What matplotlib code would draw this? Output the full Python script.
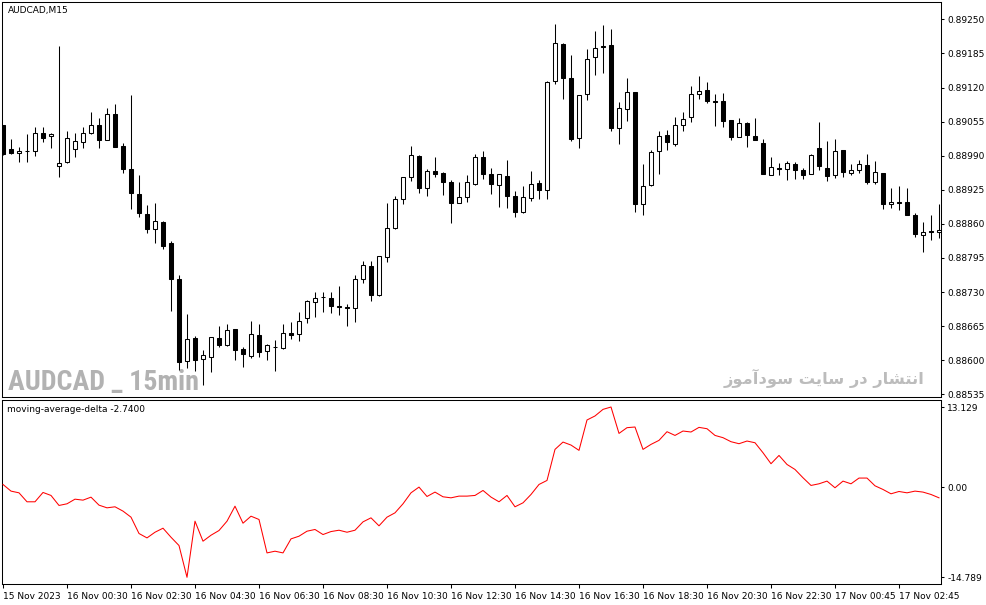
import matplotlib
matplotlib.use("Agg")
import matplotlib.pyplot as plt
from matplotlib import font_manager
import numpy as np

# ---------------- data ----------------
opens = [0.89048, 0.89003, 0.88995, 0.88999, 0.88999, 0.89033, 0.89028, 0.88970, 0.88978, 0.89003,
         0.89016, 0.89033, 0.89048, 0.89020, 0.89069, 0.89008, 0.88965, 0.88917, 0.88879, 0.88850,
         0.88864, 0.88824, 0.88755, 0.88599, 0.88643, 0.88602, 0.88606, 0.88643, 0.88629, 0.88660,
         0.88622, 0.88608, 0.88648, 0.88618, 0.88625, 0.88623, 0.88652, 0.88650, 0.88681, 0.88711,
         0.88721, 0.88719, 0.88704, 0.88702, 0.88700, 0.88755, 0.88780, 0.88724, 0.88797, 0.88852,
         0.88907, 0.88949, 0.88989, 0.88928, 0.88961, 0.88957, 0.88940, 0.88900, 0.88911, 0.88936,
         0.88988, 0.88955, 0.88934, 0.88951, 0.88913, 0.88883, 0.88909, 0.88938, 0.88925, 0.89132,
         0.89203, 0.89138, 0.89024, 0.89108, 0.89178, 0.89199, 0.89201, 0.89043, 0.89079, 0.89111,
         0.88898, 0.88934, 0.88999, 0.89029, 0.89012, 0.89048, 0.89064, 0.89108, 0.89115, 0.89094,
         0.89094, 0.89058, 0.89026, 0.89052, 0.89028, 0.89014, 0.88953, 0.88967, 0.88965, 0.88974,
         0.88963, 0.88955, 0.89005, 0.88967, 0.88953, 0.89001, 0.88957, 0.88963, 0.88972, 0.88940,
         0.88957, 0.88898, 0.88902, 0.88902, 0.88877, 0.88839, 0.88846, 0.88845]
highs = [0.89048, 0.89022, 0.89007, 0.89031, 0.89045, 0.89045, 0.89033, 0.89199, 0.89037, 0.89033,
         0.89045, 0.89073, 0.89062, 0.89081, 0.89089, 0.89014, 0.89106, 0.88953, 0.88896, 0.88900,
         0.88866, 0.88827, 0.88763, 0.88688, 0.88646, 0.88620, 0.88644, 0.88665, 0.88669, 0.88660,
         0.88625, 0.88675, 0.88669, 0.88631, 0.88639, 0.88669, 0.88673, 0.88692, 0.88715, 0.88730,
         0.88730, 0.88730, 0.88742, 0.88707, 0.88763, 0.88789, 0.88789, 0.88799, 0.88900, 0.88913,
         0.88949, 0.89008, 0.88991, 0.88965, 0.88988, 0.88959, 0.88944, 0.88940, 0.88953, 0.88993,
         0.88999, 0.88967, 0.88955, 0.88982, 0.88923, 0.88932, 0.88961, 0.88944, 0.89132, 0.89241,
         0.89205, 0.89182, 0.89106, 0.89193, 0.89228, 0.89239, 0.89232, 0.89092, 0.89138, 0.89111,
         0.88974, 0.89001, 0.89037, 0.89039, 0.89064, 0.89073, 0.89123, 0.89142, 0.89130, 0.89108,
         0.89110, 0.89058, 0.89062, 0.89054, 0.89062, 0.89022, 0.88988, 0.88976, 0.88980, 0.88978,
         0.88967, 0.88993, 0.89054, 0.89018, 0.89022, 0.89001, 0.88974, 0.88982, 0.88993, 0.88980,
         0.88957, 0.88928, 0.88932, 0.88928, 0.88881, 0.88864, 0.88877, 0.88898]
lows = [0.88991, 0.88993, 0.88978, 0.88978, 0.88989, 0.89016, 0.89005, 0.88949, 0.88976, 0.88988,
        0.89005, 0.89031, 0.89005, 0.89020, 0.89007, 0.88957, 0.88888, 0.88873, 0.88843, 0.88824,
        0.88812, 0.88694, 0.88582, 0.88585, 0.88580, 0.88553, 0.88578, 0.88625, 0.88627, 0.88601,
        0.88587, 0.88604, 0.88606, 0.88601, 0.88580, 0.88622, 0.88641, 0.88637, 0.88671, 0.88683,
        0.88692, 0.88690, 0.88686, 0.88665, 0.88673, 0.88747, 0.88713, 0.88723, 0.88787, 0.88850,
        0.88898, 0.88942, 0.88919, 0.88913, 0.88949, 0.88915, 0.88862, 0.88900, 0.88902, 0.88934,
        0.88946, 0.88917, 0.88892, 0.88890, 0.88873, 0.88881, 0.88904, 0.88907, 0.88907, 0.89127,
        0.89098, 0.89018, 0.89005, 0.89096, 0.89144, 0.89148, 0.89037, 0.89012, 0.89056, 0.88883,
        0.88877, 0.88932, 0.88955, 0.89001, 0.89008, 0.89037, 0.89054, 0.89098, 0.89090, 0.89047,
        0.89045, 0.89020, 0.89026, 0.89007, 0.89020, 0.88955, 0.88953, 0.88953, 0.88944, 0.88946,
        0.88946, 0.88955, 0.88963, 0.88942, 0.88947, 0.88949, 0.88953, 0.88957, 0.88936, 0.88936,
        0.88888, 0.88890, 0.88887, 0.88877, 0.88835, 0.88806, 0.88829, 0.88833]
closes = [0.88993, 0.88995, 0.88999, 0.88999, 0.89033, 0.89024, 0.89031, 0.88976, 0.89024, 0.89018,
          0.89033, 0.89048, 0.89020, 0.89069, 0.89007, 0.88965, 0.88919, 0.88881, 0.88850, 0.88866,
          0.88818, 0.88755, 0.88597, 0.88641, 0.88601, 0.88610, 0.88644, 0.88629, 0.88658, 0.88620,
          0.88612, 0.88650, 0.88616, 0.88629, 0.88625, 0.88652, 0.88648, 0.88675, 0.88713, 0.88719,
          0.88721, 0.88704, 0.88702, 0.88700, 0.88755, 0.88782, 0.88724, 0.88799, 0.88852, 0.88907,
          0.88949, 0.88991, 0.88928, 0.88961, 0.88955, 0.88940, 0.88900, 0.88911, 0.88940, 0.88988,
          0.88955, 0.88936, 0.88955, 0.88913, 0.88883, 0.88911, 0.88936, 0.88925, 0.89130, 0.89205,
          0.89138, 0.89022, 0.89106, 0.89174, 0.89195, 0.89197, 0.89043, 0.89081, 0.89111, 0.88898,
          0.88932, 0.88997, 0.89028, 0.89016, 0.89048, 0.89060, 0.89108, 0.89113, 0.89094, 0.89092,
          0.89056, 0.89026, 0.89052, 0.89029, 0.89020, 0.88955, 0.88968, 0.88965, 0.88976, 0.88963,
          0.88953, 0.88991, 0.88970, 0.88951, 0.88999, 0.88959, 0.88963, 0.88974, 0.88940, 0.88959,
          0.88898, 0.88902, 0.88900, 0.88877, 0.88841, 0.88845, 0.88845, 0.88848]
delta = [0.43, -0.66, -0.94, -2.41, -2.41, -0.88, -1.37, -3.01, -2.74, -1.98,
         -2.14, -1.65, -2.96, -3.40, -3.23, -3.94, -4.93, -7.61, -8.33, -7.40,
         -6.74, -8.22, -9.58, -14.789, -5.59, -8.87, -7.89, -7.12, -5.59, -3.13,
         -5.92, -4.77, -5.31, -10.79, -10.51, -10.79, -8.49, -8.05, -7.23, -6.95,
         -7.78, -7.29, -7.07, -7.40, -7.07, -5.70, -5.04, -6.35, -4.93, -4.22,
         -2.74, -0.94, 0.00, -1.54, -0.82, -1.59, -1.76, -1.48, -1.48, -1.37,
         -0.55, -1.64, -2.41, -1.37, -3.23, -2.58, -1.21, 0.43, 1.09, 6.18,
         7.38, 6.89, 6.02, 11.00, 11.66, 12.74, 13.129, 8.80, 9.74, 9.85,
         6.18, 7.00, 7.66, 9.08, 8.47, 9.19, 9.03, 9.79, 9.57, 8.47,
         8.10, 7.44, 7.11, 7.55, 7.27, 5.63, 3.83, 5.19, 3.71, 2.89,
         1.53, 0.27, 0.54, 0.98, -0.11, 0.98, 0.54, 1.48, 1.48, 0.21,
         -0.39, -1.10, -0.72, -0.94, -0.66, -0.82, -1.21, -1.76]

price_ticks = [0.89250, 0.89185, 0.89120, 0.89055, 0.88990, 0.88925, 0.88860,
               0.88795, 0.88730, 0.88665, 0.88600, 0.88535]
delta_ticks = [13.129, 0.00, -14.789]
delta_tick_labels = ["13.129", "0.00", "-14.789"]
time_labels = ["15 Nov 2023", "16 Nov 00:30", "16 Nov 02:30", "16 Nov 04:30", "16 Nov 06:30",
               "16 Nov 08:30", "16 Nov 10:30", "16 Nov 12:30", "16 Nov 14:30", "16 Nov 16:30",
               "16 Nov 18:30", "16 Nov 20:30", "16 Nov 22:30", "17 Nov 00:45", "17 Nov 02:45"]
label_step = 8

# ---------------- figure ----------------
W, H = 987, 605
fig = plt.figure(figsize=(W / 100, H / 100), dpi=100)
fig.patch.set_facecolor("white")
plt.rcParams["font.family"] = ["DejaVu Sans"]
FS = 6.5
LW = 0.75


def fx(px):
    return px / W


def fy(py):
    return 1 - py / H


ax1 = fig.add_axes([fx(2), fy(397), fx(939), 395 / H])
ax2 = fig.add_axes([fx(2), fy(584), fx(939), 184 / H])

n = len(opens)
x = np.arange(n)
o = np.array(opens); c = np.array(closes); h = np.array(highs); l = np.array(lows)
bull = c >= o

ax1.vlines(x, l, h, color="black", linewidth=LW, zorder=3)
bottoms = np.minimum(o, c)
heights = np.abs(c - o)
ax1.bar(x[bull], heights[bull], bottom=bottoms[bull], width=0.5,
        facecolor="white", edgecolor="black", linewidth=LW, zorder=4)
ax1.bar(x[~bull], heights[~bull], bottom=bottoms[~bull], width=0.5,
        facecolor="black", edgecolor="black", linewidth=LW, zorder=4)

ax1.set_xlim(-0.125, 117.25)
ax1.set_ylim(0.88530, 0.89283)
ax1.yaxis.tick_right()
ax1.set_yticks(price_ticks)
ax1.set_yticklabels([f"{v:.5f}" for v in price_ticks], fontsize=FS)
ax1.tick_params(axis="y", direction="out", length=2.5, width=LW, pad=2, colors="black")
ax1.set_xticks([])

ax2.plot(x, delta, color="#ff0000", linewidth=LW, zorder=3)
ax2.set_xlim(-0.125, 117.25)
ax2.set_ylim(-15.887, 14.277)
ax2.yaxis.tick_right()
ax2.set_yticks(delta_ticks)
ax2.set_yticklabels(delta_tick_labels, fontsize=FS)
ax2.tick_params(axis="y", direction="out", length=2.5, width=LW, pad=2, colors="black")
ax2.set_xticks(np.arange(0, n, label_step)[:len(time_labels)])
ax2.set_xticklabels(time_labels, fontsize=FS, ha="left")
ax2.tick_params(axis="x", direction="out", length=3, width=LW, pad=3, colors="black")

for ax in (ax1, ax2):
    for s in ax.spines.values():
        s.set_linewidth(LW)
        s.set_color("black")

fig.text(fx(8), fy(10), "AUDCAD,M15", fontsize=FS, va="center", ha="left", color="black")
fig.text(fx(7), fy(409), "moving-average-delta -2.7400", fontsize=FS, va="center", ha="left",
         color="black")


# ---------------- watermarks ----------------
def first_font(cands, **kw):
    for name in cands:
        try:
            font_manager.findfont(font_manager.FontProperties(family=name, **kw),
                                  fallback_to_default=False)
            return name
        except Exception:
            continue
    return "DejaVu Sans"


narrow = first_font(["Liberation Sans Narrow", "Roboto Condensed", "Open Sans Condensed",
                     "Noto Sans Display", "Roboto", "Liberation Sans"], weight="bold")
wm = fig.text(fx(8), fy(390), "AUDCAD _ 15min", fontsize=24, fontweight="bold",
              family=[narrow], color="#b2b2b2", va="baseline", ha="left", zorder=0)
# fit the width of the watermark to the picture (x 8..200 px)
fig.canvas.draw()
bb = wm.get_window_extent()
target_w = 192.0
if bb.width > 0:
    wm.set_fontsize(24 * min(1.0, target_w / bb.width))

logical = ("\uFE8D\uFEE7\uFE98\uFEB8\uFE8E\uFEAD \uFEA9\uFEAD "
           "\uFEB3\uFE8E\uFEF3\uFE96 \uFEB3\uFEEE\uFEA9\uFE81\uFEE3\uFEEE\uFEAF")
fa = fig.text(fx(925), fy(384), logical[::-1], fontsize=13, fontweight="bold",
              family=["DejaVu Sans"], color="#bcbcbc", va="baseline", ha="right", zorder=0)
fig.canvas.draw()
bb2 = fa.get_window_extent()
if bb2.width > 0:
    fa.set_fontsize(13 * 200.0 / bb2.width)

ax1.set_zorder(1)
ax1.patch.set_alpha(0)

fig.savefig("out.png", dpi=100, facecolor="white")
